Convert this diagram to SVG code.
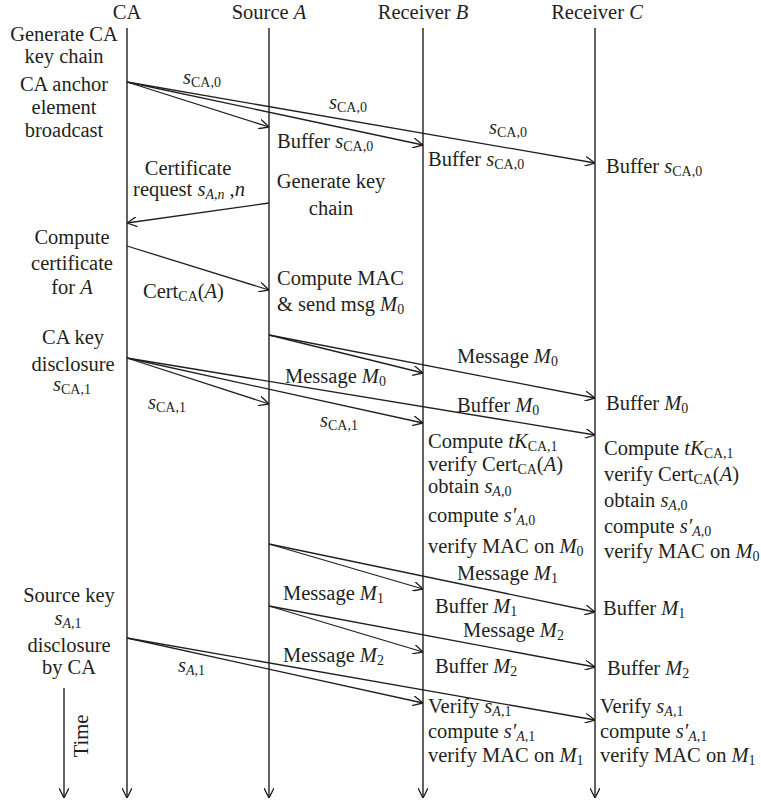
<svg xmlns="http://www.w3.org/2000/svg" width="761" height="803" viewBox="0 0 761 803">
<style>
.t{font-family:"Liberation Serif","Times New Roman",serif;font-size:20.5px;fill:#231f20}
.m{text-anchor:middle}
.i{font-style:italic}
.s{font-size:14px}
.ln{stroke:#231f20;stroke-width:1.3;fill:none}
.lf{stroke:#231f20;stroke-width:1.4;fill:none;marker-end:url(#ah)}
.ar{marker-end:url(#ah)}
</style>
<defs>
<marker id="ah" viewBox="0 0 10 10" refX="10" refY="5" markerWidth="10" markerHeight="10" markerUnits="userSpaceOnUse" orient="auto">
<path d="M0,0 L10,5 L0,10" fill="none" stroke="#231f20" stroke-width="1.3"/>
</marker>
</defs>
<rect width="761" height="803" fill="#fff"/>

<g id="lifeline-CA">
<text class="t m" x="127" y="19">CA</text>
<line class="lf" x1="127" y1="28" x2="127" y2="798"/>
</g>
<g id="lifeline-A">
<text class="t m" x="269" y="19">Source <tspan class="i">A</tspan></text>
<line class="lf" x1="269" y1="28" x2="269" y2="798"/>
</g>
<g id="lifeline-B">
<text class="t m" x="423" y="19">Receiver <tspan class="i">B</tspan></text>
<line class="lf" x1="423" y1="28" x2="423" y2="798"/>
</g>
<g id="lifeline-C">
<text class="t m" x="597" y="19">Receiver <tspan class="i">C</tspan></text>
<line class="lf" x1="595" y1="28" x2="595" y2="798"/>
</g>
<g id="time">
<line class="lf" x1="64" y1="688" x2="64" y2="798"/>
<text class="t m" transform="translate(88,736) rotate(-90)">Time</text>
</g>

<g id="connectors">
<line class="ln ar" x1="127" y1="82" x2="269" y2="127"/>
<line class="ln ar" x1="127" y1="82" x2="423" y2="145"/>
<line class="ln ar" x1="127" y1="82" x2="595" y2="163"/>
<line class="ln ar" x1="269" y1="203" x2="127" y2="223"/>
<line class="ln ar" x1="127" y1="246" x2="269" y2="290"/>
<line class="ln ar" x1="269" y1="335" x2="423" y2="373"/>
<line class="ln ar" x1="269" y1="335" x2="595" y2="398"/>
<line class="ln ar" x1="127" y1="358" x2="269" y2="404"/>
<line class="ln ar" x1="127" y1="358" x2="423" y2="423"/>
<line class="ln ar" x1="127" y1="358" x2="595" y2="435"/>
<line class="ln ar" x1="269" y1="544" x2="423" y2="589"/>
<line class="ln ar" x1="269" y1="544" x2="595" y2="612"/>
<line class="ln ar" x1="269" y1="606" x2="423" y2="652"/>
<line class="ln ar" x1="269" y1="606" x2="595" y2="667"/>
<line class="ln ar" x1="127" y1="638" x2="423" y2="703"/>
<line class="ln ar" x1="127" y1="638" x2="595" y2="720"/>
</g>

<g id="ca-keychain">
<text class="t m" x="64" y="41">Generate CA</text>
<text class="t m" x="64" y="63">key chain</text>
</g>
<g id="ca-anchor">
<text class="t m" x="64" y="91">CA anchor</text>
<text class="t m" x="64" y="114">element</text>
<text class="t m" x="64" y="137">broadcast</text>
</g>
<g id="label-sca0">
<text class="t" x="183" y="84"><tspan class="i">s</tspan><tspan class="s" dy="3">CA,0</tspan></text>
<text class="t" x="329" y="109"><tspan class="i">s</tspan><tspan class="s" dy="3">CA,0</tspan></text>
<text class="t" x="489" y="134"><tspan class="i">s</tspan><tspan class="s" dy="3">CA,0</tspan></text>
</g>
<g id="buffer-sca0">
<text class="t" x="277" y="148">Buffer <tspan class="i">s</tspan><tspan class="s" dy="3">CA,0</tspan></text>
<text class="t" x="428" y="166">Buffer <tspan class="i">s</tspan><tspan class="s" dy="3">CA,0</tspan></text>
<text class="t" x="606" y="173">Buffer <tspan class="i">s</tspan><tspan class="s" dy="3">CA,0</tspan></text>
</g>
<g id="cert-request">
<text class="t m" x="188" y="175">Certificate</text>
<text class="t m" x="189" y="196">request <tspan class="i">s</tspan><tspan class="s i" dy="3">A,n</tspan><tspan dy="-3"> ,</tspan><tspan class="i">n</tspan></text>
</g>
<g id="gen-key">
<text class="t m" x="331" y="188">Generate key</text>
<text class="t m" x="331" y="215">chain</text>
</g>
<g id="compute-cert">
<text class="t m" x="72" y="244">Compute</text>
<text class="t m" x="72" y="270">certificate</text>
<text class="t m" x="72" y="294">for <tspan class="i">A</tspan></text>
</g>
<g id="label-cert">
<text class="t" x="143" y="298">Cert<tspan class="s" dy="3">CA</tspan><tspan dy="-3">(</tspan><tspan class="i">A</tspan>)</text>
</g>
<g id="compute-mac">
<text class="t" x="277" y="285">Compute MAC</text>
<text class="t" x="277" y="311">&amp; send msg <tspan class="i">M</tspan><tspan class="s" dy="3">0</tspan></text>
</g>
<g id="ca-key-disclosure">
<text class="t m" x="73" y="344">CA key</text>
<text class="t m" x="73" y="371">disclosure</text>
<text class="t m" x="72" y="391"><tspan class="i">s</tspan><tspan class="s" dy="3">CA,1</tspan></text>
</g>
<g id="label-m0">
<text class="t" x="457" y="363">Message <tspan class="i">M</tspan><tspan class="s" dy="3">0</tspan></text>
<text class="t" x="285" y="383">Message <tspan class="i">M</tspan><tspan class="s" dy="3">0</tspan></text>
</g>
<g id="label-sca1">
<text class="t" x="148" y="409"><tspan class="i">s</tspan><tspan class="s" dy="3">CA,1</tspan></text>
<text class="t" x="320" y="427"><tspan class="i">s</tspan><tspan class="s" dy="3">CA,1</tspan></text>
</g>
<g id="buffer-m0">
<text class="t" x="457" y="412">Buffer <tspan class="i">M</tspan><tspan class="s" dy="3">0</tspan></text>
<text class="t" x="606" y="410">Buffer <tspan class="i">M</tspan><tspan class="s" dy="3">0</tspan></text>
</g>
<g id="verify-b">
<text class="t" x="428" y="448">Compute <tspan class="i">tK</tspan><tspan class="s" dy="3">CA,1</tspan></text>
<text class="t" x="428" y="471">verify Cert<tspan class="s" dy="3">CA</tspan><tspan dy="-3">(</tspan><tspan class="i">A</tspan>)</text>
<text class="t" x="428" y="493">obtain <tspan class="i">s</tspan><tspan class="s i" dy="3">A</tspan><tspan class="s">,0</tspan></text>
<text class="t" x="428" y="522">compute <tspan class="i">s′</tspan><tspan class="s i" dy="3">A</tspan><tspan class="s">,0</tspan></text>
<text class="t" x="428" y="553">verify MAC on <tspan class="i">M</tspan><tspan class="s" dy="3">0</tspan></text>
</g>
<g id="verify-c">
<text class="t" x="604" y="455">Compute <tspan class="i">tK</tspan><tspan class="s" dy="3">CA,1</tspan></text>
<text class="t" x="604" y="481">verify Cert<tspan class="s" dy="3">CA</tspan><tspan dy="-3">(</tspan><tspan class="i">A</tspan>)</text>
<text class="t" x="604" y="507">obtain <tspan class="i">s</tspan><tspan class="s i" dy="3">A</tspan><tspan class="s">,0</tspan></text>
<text class="t" x="604" y="533">compute <tspan class="i">s′</tspan><tspan class="s i" dy="3">A</tspan><tspan class="s">,0</tspan></text>
<text class="t" x="604" y="558">verify MAC on <tspan class="i">M</tspan><tspan class="s" dy="3">0</tspan></text>
</g>
<g id="label-m1">
<text class="t" x="457" y="580">Message <tspan class="i">M</tspan><tspan class="s" dy="3">1</tspan></text>
<text class="t" x="283" y="600">Message <tspan class="i">M</tspan><tspan class="s" dy="3">1</tspan></text>
</g>
<g id="buffer-m1">
<text class="t" x="435" y="613">Buffer <tspan class="i">M</tspan><tspan class="s" dy="3">1</tspan></text>
<text class="t" x="603" y="615">Buffer <tspan class="i">M</tspan><tspan class="s" dy="3">1</tspan></text>
</g>
<g id="label-m2">
<text class="t" x="463" y="637">Message <tspan class="i">M</tspan><tspan class="s" dy="3">2</tspan></text>
<text class="t" x="283" y="662">Message <tspan class="i">M</tspan><tspan class="s" dy="3">2</tspan></text>
</g>
<g id="buffer-m2">
<text class="t" x="435" y="673">Buffer <tspan class="i">M</tspan><tspan class="s" dy="3">2</tspan></text>
<text class="t" x="607" y="675">Buffer <tspan class="i">M</tspan><tspan class="s" dy="3">2</tspan></text>
</g>
<g id="source-key-disclosure">
<text class="t m" x="69" y="602">Source key</text>
<text class="t m" x="68" y="625"><tspan class="i">s</tspan><tspan class="s i" dy="3">A</tspan><tspan class="s">,1</tspan></text>
<text class="t m" x="69" y="652">disclosure</text>
<text class="t m" x="69" y="674">by CA</text>
</g>
<g id="label-sa1">
<text class="t" x="178" y="672"><tspan class="i">s</tspan><tspan class="s i" dy="3">A</tspan><tspan class="s">,1</tspan></text>
</g>
<g id="final-b">
<text class="t" x="428" y="713">Verify <tspan class="i">s</tspan><tspan class="s i" dy="3">A</tspan><tspan class="s">,1</tspan></text>
<text class="t" x="428" y="738">compute <tspan class="i">s′</tspan><tspan class="s i" dy="3">A</tspan><tspan class="s">,1</tspan></text>
<text class="t" x="428" y="762">verify MAC on <tspan class="i">M</tspan><tspan class="s" dy="3">1</tspan></text>
</g>
<g id="final-c">
<text class="t" x="600" y="713">Verify <tspan class="i">s</tspan><tspan class="s i" dy="3">A</tspan><tspan class="s">,1</tspan></text>
<text class="t" x="600" y="738">compute <tspan class="i">s′</tspan><tspan class="s i" dy="3">A</tspan><tspan class="s">,1</tspan></text>
<text class="t" x="600" y="762">verify MAC on <tspan class="i">M</tspan><tspan class="s" dy="3">1</tspan></text>
</g>
</svg>
